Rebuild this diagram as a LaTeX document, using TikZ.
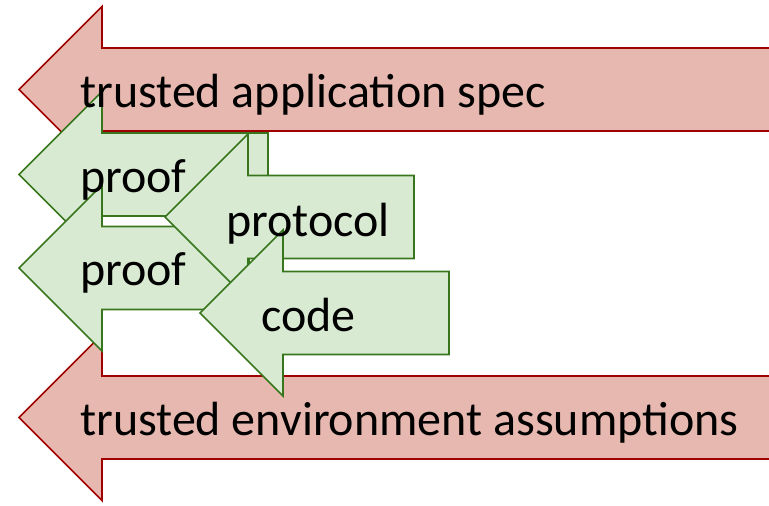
\documentclass[tikz,border=0pt]{standalone}
\usepackage{fontspec}
\setmainfont{Carlito}[Ligatures=Common]
\definecolor{redfill}{HTML}{E6B8AF}
\definecolor{redline}{HTML}{A00000}
\definecolor{greenfill}{HTML}{D9EAD3}
\definecolor{greenline}{HTML}{38761D}
\newcommand\leftarrowshape[4]{%
  \draw[#4] (#1,#2) -- (#1+83,#2-83) -- (#1+83,#2-41.5) -- (#3,#2-41.5)
    -- (#3,#2+41.5) -- (#1+83,#2+41.5) -- (#1+83,#2+83) -- cycle;}
\begin{document}
\begin{tikzpicture}[x=1bp,y=-1bp,
  redarrow/.style={fill=redfill,draw=redline,line width=1.7bp,line join=miter},
  greenarrow/.style={fill=greenfill,draw=greenline,line width=1.7bp,line join=miter},
  lbl/.style={anchor=base west,inner sep=0pt,font=\fontsize{48bp}{57bp}\selectfont}]
\useasboundingbox (0,0) rectangle (769,506);
\clip (0,0) rectangle (769,506);
\leftarrowshape{19}{89.5}{800}{redarrow}
\leftarrowshape{19}{417.5}{800}{redarrow}
\leftarrowshape{19}{174.5}{268}{greenarrow}
\leftarrowshape{19}{268}{249}{greenarrow}
\leftarrowshape{165}{217}{414}{greenarrow}
\leftarrowshape{200}{313}{449}{greenarrow}
\node[lbl] (spec) at (80,108) {trusted application spec};
\node[lbl] (env) at (80,435) {trusted environment assumptions};
\node[lbl] (proofA) at (80,193) {proof};
\node[lbl] (proofB) at (80,286) {proof};
\node[lbl] (protocol) at (226,237) {protocol};
\node[lbl] (code) at (261,331) {code};
\end{tikzpicture}
\end{document}
